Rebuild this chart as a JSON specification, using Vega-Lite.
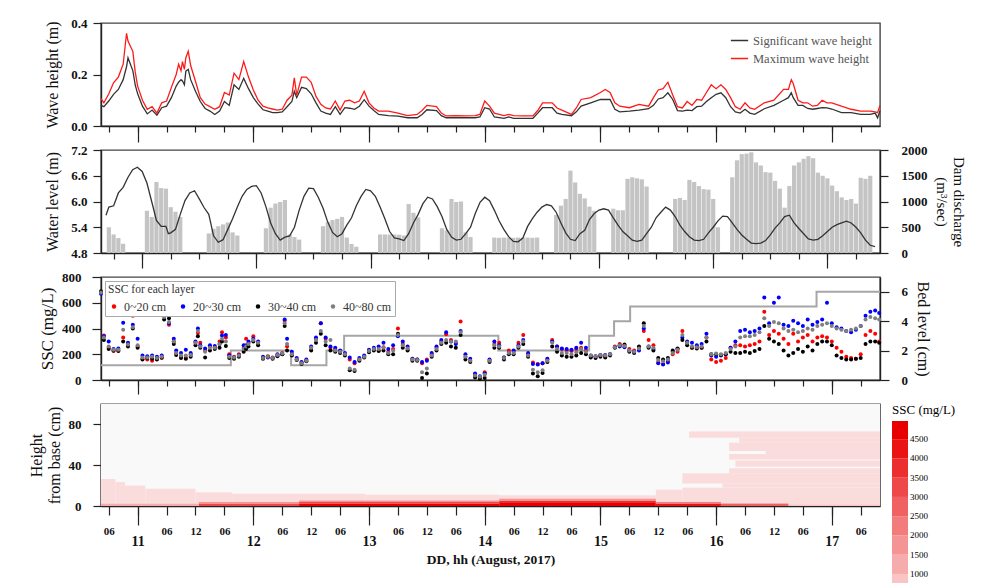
{
"$schema": "https://vega.github.io/schema/vega-lite/v6.json",
"padding": {"left": 27, "top": 16, "right": 6, "bottom": 6},
"background": "white",
"config": {
  "font": "Liberation Serif",
  "view": {"stroke": "#444", "strokeWidth": 1.4},
  "axis": {"labelFont": "Liberation Serif", "titleFont": "Liberation Serif", "labelFontWeight": "bold", "labelFontSize": 13, "labelColor": "#111", "titleFontWeight": "normal", "titleFontSize": 16, "titleColor": "#111", "domainColor": "#222", "domainWidth": 1.4, "tickColor": "#222", "tickWidth": 1.2, "grid": false},
  "legend": {"labelFont": "Liberation Serif", "titleFont": "Liberation Serif"}
},
"datasets": {
"wave": [
{"t":"2017-08-10T16:24","Hs":0.08,"Hmax":0.106},{"t":"2017-08-10T17:00","Hs":0.075,"Hmax":0.09},{"t":"2017-08-10T18:00","Hs":0.097,"Hmax":0.124},{"t":"2017-08-10T19:00","Hs":0.123,"Hmax":0.168},{"t":"2017-08-10T20:00","Hs":0.142,"Hmax":0.19},{"t":"2017-08-10T21:00","Hs":0.18,"Hmax":0.24},{"t":"2017-08-10T21:42","Hs":0.23,"Hmax":0.36},{"t":"2017-08-10T22:00","Hs":0.265,"Hmax":0.33},{"t":"2017-08-10T22:30","Hs":0.24,"Hmax":0.31},{"t":"2017-08-10T23:00","Hs":0.215,"Hmax":0.29},{"t":"2017-08-10T23:30","Hs":0.16,"Hmax":0.21},
{"t":"2017-08-11T00:00","Hs":0.125,"Hmax":0.155},{"t":"2017-08-11T01:00","Hs":0.077,"Hmax":0.1},{"t":"2017-08-11T02:00","Hs":0.047,"Hmax":0.065},{"t":"2017-08-11T03:00","Hs":0.062,"Hmax":0.075},{"t":"2017-08-11T04:00","Hs":0.042,"Hmax":0.05},{"t":"2017-08-11T05:00","Hs":0.071,"Hmax":0.09},{"t":"2017-08-11T06:00","Hs":0.077,"Hmax":0.097},{"t":"2017-08-11T07:00","Hs":0.11,"Hmax":0.15},{"t":"2017-08-11T08:00","Hs":0.155,"Hmax":0.2},{"t":"2017-08-11T08:30","Hs":0.17,"Hmax":0.24},{"t":"2017-08-11T09:00","Hs":0.18,"Hmax":0.215},{"t":"2017-08-11T09:18","Hs":0.175,"Hmax":0.25},{"t":"2017-08-11T09:42","Hs":0.16,"Hmax":0.22},{"t":"2017-08-11T10:00","Hs":0.213,"Hmax":0.265},{"t":"2017-08-11T10:30","Hs":0.22,"Hmax":0.29},{"t":"2017-08-11T11:00","Hs":0.18,"Hmax":0.235},{"t":"2017-08-11T12:00","Hs":0.135,"Hmax":0.174},{"t":"2017-08-11T13:00","Hs":0.095,"Hmax":0.11},{"t":"2017-08-11T14:00","Hs":0.068,"Hmax":0.085},{"t":"2017-08-11T15:00","Hs":0.058,"Hmax":0.075},{"t":"2017-08-11T16:00","Hs":0.045,"Hmax":0.065},{"t":"2017-08-11T17:00","Hs":0.058,"Hmax":0.075},{"t":"2017-08-11T18:00","Hs":0.095,"Hmax":0.13},{"t":"2017-08-11T19:00","Hs":0.08,"Hmax":0.12},{"t":"2017-08-11T20:00","Hs":0.16,"Hmax":0.205},{"t":"2017-08-11T21:00","Hs":0.142,"Hmax":0.18},{"t":"2017-08-11T22:00","Hs":0.185,"Hmax":0.25},{"t":"2017-08-11T23:00","Hs":0.145,"Hmax":0.19},
{"t":"2017-08-12T00:00","Hs":0.11,"Hmax":0.14},{"t":"2017-08-12T01:00","Hs":0.085,"Hmax":0.1},{"t":"2017-08-12T02:00","Hs":0.063,"Hmax":0.077},{"t":"2017-08-12T03:00","Hs":0.058,"Hmax":0.07},{"t":"2017-08-12T04:00","Hs":0.052,"Hmax":0.066},{"t":"2017-08-12T05:00","Hs":0.052,"Hmax":0.062},{"t":"2017-08-12T06:00","Hs":0.055,"Hmax":0.065},{"t":"2017-08-12T07:00","Hs":0.075,"Hmax":0.1},{"t":"2017-08-12T08:00","Hs":0.095,"Hmax":0.12},{"t":"2017-08-12T08:30","Hs":0.135,"Hmax":0.187},{"t":"2017-08-12T09:00","Hs":0.11,"Hmax":0.12},{"t":"2017-08-12T10:00","Hs":0.15,"Hmax":0.19},{"t":"2017-08-12T11:00","Hs":0.145,"Hmax":0.19},{"t":"2017-08-12T12:00","Hs":0.125,"Hmax":0.17},{"t":"2017-08-12T13:00","Hs":0.09,"Hmax":0.115},{"t":"2017-08-12T14:00","Hs":0.058,"Hmax":0.084},{"t":"2017-08-12T15:00","Hs":0.05,"Hmax":0.07},{"t":"2017-08-12T16:00","Hs":0.045,"Hmax":0.066},{"t":"2017-08-12T17:00","Hs":0.075,"Hmax":0.097},{"t":"2017-08-12T18:00","Hs":0.045,"Hmax":0.062},{"t":"2017-08-12T19:00","Hs":0.071,"Hmax":0.097},{"t":"2017-08-12T20:00","Hs":0.069,"Hmax":0.1},{"t":"2017-08-12T21:00","Hs":0.065,"Hmax":0.09},{"t":"2017-08-12T22:00","Hs":0.077,"Hmax":0.097},{"t":"2017-08-12T23:00","Hs":0.102,"Hmax":0.135},
{"t":"2017-08-13T00:00","Hs":0.077,"Hmax":0.09},{"t":"2017-08-13T01:00","Hs":0.06,"Hmax":0.07},{"t":"2017-08-13T02:00","Hs":0.045,"Hmax":0.058},{"t":"2017-08-13T04:00","Hs":0.04,"Hmax":0.058},{"t":"2017-08-13T06:00","Hs":0.038,"Hmax":0.05},{"t":"2017-08-13T08:00","Hs":0.032,"Hmax":0.04},{"t":"2017-08-13T10:00","Hs":0.032,"Hmax":0.045},{"t":"2017-08-13T11:00","Hs":0.045,"Hmax":0.06},{"t":"2017-08-13T12:00","Hs":0.063,"Hmax":0.08},{"t":"2017-08-13T14:00","Hs":0.06,"Hmax":0.075},{"t":"2017-08-13T15:00","Hs":0.04,"Hmax":0.05},{"t":"2017-08-13T16:00","Hs":0.032,"Hmax":0.039},{"t":"2017-08-13T18:00","Hs":0.032,"Hmax":0.04},{"t":"2017-08-13T20:00","Hs":0.032,"Hmax":0.039},{"t":"2017-08-13T22:00","Hs":0.032,"Hmax":0.04},{"t":"2017-08-13T23:00","Hs":0.035,"Hmax":0.045},
{"t":"2017-08-14T00:00","Hs":0.071,"Hmax":0.097},{"t":"2017-08-14T01:00","Hs":0.066,"Hmax":0.077},{"t":"2017-08-14T02:00","Hs":0.035,"Hmax":0.05},{"t":"2017-08-14T04:00","Hs":0.03,"Hmax":0.04},{"t":"2017-08-14T05:00","Hs":0.035,"Hmax":0.045},{"t":"2017-08-14T06:00","Hs":0.03,"Hmax":0.04},{"t":"2017-08-14T08:00","Hs":0.03,"Hmax":0.039},{"t":"2017-08-14T10:00","Hs":0.03,"Hmax":0.039},{"t":"2017-08-14T11:00","Hs":0.05,"Hmax":0.06},{"t":"2017-08-14T12:00","Hs":0.071,"Hmax":0.09},{"t":"2017-08-14T14:00","Hs":0.071,"Hmax":0.09},{"t":"2017-08-14T15:00","Hs":0.05,"Hmax":0.07},{"t":"2017-08-14T16:00","Hs":0.045,"Hmax":0.062},{"t":"2017-08-14T18:00","Hs":0.04,"Hmax":0.045},{"t":"2017-08-14T19:00","Hs":0.055,"Hmax":0.07},{"t":"2017-08-14T20:00","Hs":0.077,"Hmax":0.103},{"t":"2017-08-14T22:00","Hs":0.09,"Hmax":0.11},
{"t":"2017-08-15T00:00","Hs":0.103,"Hmax":0.13},{"t":"2017-08-15T01:00","Hs":0.103,"Hmax":0.142},{"t":"2017-08-15T02:00","Hs":0.103,"Hmax":0.13},{"t":"2017-08-15T03:00","Hs":0.065,"Hmax":0.09},{"t":"2017-08-15T04:00","Hs":0.055,"Hmax":0.077},{"t":"2017-08-15T06:00","Hs":0.058,"Hmax":0.071},{"t":"2017-08-15T08:00","Hs":0.062,"Hmax":0.084},{"t":"2017-08-15T10:00","Hs":0.067,"Hmax":0.077},{"t":"2017-08-15T11:00","Hs":0.08,"Hmax":0.11},{"t":"2017-08-15T12:00","Hs":0.105,"Hmax":0.14},{"t":"2017-08-15T13:00","Hs":0.11,"Hmax":0.145},{"t":"2017-08-15T14:00","Hs":0.129,"Hmax":0.17},{"t":"2017-08-15T15:00","Hs":0.103,"Hmax":0.12},{"t":"2017-08-15T16:00","Hs":0.06,"Hmax":0.075},{"t":"2017-08-15T17:00","Hs":0.058,"Hmax":0.07},{"t":"2017-08-15T18:00","Hs":0.062,"Hmax":0.095},{"t":"2017-08-15T19:00","Hs":0.06,"Hmax":0.08},{"t":"2017-08-15T20:00","Hs":0.075,"Hmax":0.103},{"t":"2017-08-15T21:00","Hs":0.077,"Hmax":0.1},{"t":"2017-08-15T22:00","Hs":0.095,"Hmax":0.13},{"t":"2017-08-15T23:00","Hs":0.11,"Hmax":0.16},
{"t":"2017-08-16T00:00","Hs":0.123,"Hmax":0.145},{"t":"2017-08-16T01:00","Hs":0.129,"Hmax":0.16},{"t":"2017-08-16T02:00","Hs":0.11,"Hmax":0.142},{"t":"2017-08-16T03:00","Hs":0.075,"Hmax":0.11},{"t":"2017-08-16T04:00","Hs":0.055,"Hmax":0.075},{"t":"2017-08-16T05:00","Hs":0.05,"Hmax":0.065},{"t":"2017-08-16T06:00","Hs":0.065,"Hmax":0.09},{"t":"2017-08-16T07:00","Hs":0.05,"Hmax":0.07},{"t":"2017-08-16T08:00","Hs":0.045,"Hmax":0.065},{"t":"2017-08-16T10:00","Hs":0.067,"Hmax":0.09},{"t":"2017-08-16T12:00","Hs":0.08,"Hmax":0.1},{"t":"2017-08-16T14:00","Hs":0.1,"Hmax":0.142},{"t":"2017-08-16T15:00","Hs":0.11,"Hmax":0.142},{"t":"2017-08-16T15:36","Hs":0.129,"Hmax":0.18},{"t":"2017-08-16T16:00","Hs":0.11,"Hmax":0.165},{"t":"2017-08-16T17:00","Hs":0.08,"Hmax":0.1},{"t":"2017-08-16T18:00","Hs":0.08,"Hmax":0.09},{"t":"2017-08-16T19:00","Hs":0.068,"Hmax":0.09},{"t":"2017-08-16T20:00","Hs":0.065,"Hmax":0.077},{"t":"2017-08-16T21:00","Hs":0.068,"Hmax":0.08},{"t":"2017-08-16T22:00","Hs":0.071,"Hmax":0.1},{"t":"2017-08-16T23:00","Hs":0.07,"Hmax":0.09},
{"t":"2017-08-17T00:00","Hs":0.066,"Hmax":0.09},{"t":"2017-08-17T02:00","Hs":0.052,"Hmax":0.077},{"t":"2017-08-17T04:00","Hs":0.052,"Hmax":0.065},{"t":"2017-08-17T06:00","Hs":0.045,"Hmax":0.058},{"t":"2017-08-17T08:00","Hs":0.045,"Hmax":0.058},{"t":"2017-08-17T09:00","Hs":0.05,"Hmax":0.055},{"t":"2017-08-17T09:30","Hs":0.032,"Hmax":0.052},{"t":"2017-08-17T10:00","Hs":0.058,"Hmax":0.08}
],
"level": [
{"t":"2017-08-10T16:24","wl":5.68},{"t":"2017-08-10T17:00","wl":5.87},{"t":"2017-08-10T18:00","wl":5.9},{"t":"2017-08-10T19:00","wl":6.2},{"t":"2017-08-10T20:00","wl":6.33},{"t":"2017-08-10T21:00","wl":6.56},{"t":"2017-08-10T22:00","wl":6.74},{"t":"2017-08-10T23:00","wl":6.8},
{"t":"2017-08-11T00:00","wl":6.7},{"t":"2017-08-11T01:00","wl":6.43},{"t":"2017-08-11T02:00","wl":6.0},{"t":"2017-08-11T03:00","wl":5.56},{"t":"2017-08-11T04:00","wl":5.42},{"t":"2017-08-11T05:00","wl":5.42},{"t":"2017-08-11T05:30","wl":5.25},{"t":"2017-08-11T06:00","wl":5.27},{"t":"2017-08-11T07:00","wl":5.35},{"t":"2017-08-11T08:00","wl":5.7},{"t":"2017-08-11T09:00","wl":6.02},{"t":"2017-08-11T10:00","wl":6.2},{"t":"2017-08-11T11:00","wl":6.25},{"t":"2017-08-11T12:00","wl":6.06},{"t":"2017-08-11T13:00","wl":5.86},{"t":"2017-08-11T14:00","wl":5.7},{"t":"2017-08-11T15:00","wl":5.2},{"t":"2017-08-11T16:00","wl":5.05},{"t":"2017-08-11T17:00","wl":5.11},{"t":"2017-08-11T18:00","wl":5.35},{"t":"2017-08-11T19:00","wl":5.6},{"t":"2017-08-11T20:00","wl":5.87},{"t":"2017-08-11T21:00","wl":6.12},{"t":"2017-08-11T22:00","wl":6.28},{"t":"2017-08-11T23:00","wl":6.35},
{"t":"2017-08-12T00:00","wl":6.37},{"t":"2017-08-12T01:00","wl":6.2},{"t":"2017-08-12T02:00","wl":5.88},{"t":"2017-08-12T03:00","wl":5.5},{"t":"2017-08-12T04:00","wl":5.25},{"t":"2017-08-12T05:00","wl":5.1},{"t":"2017-08-12T06:00","wl":5.17},{"t":"2017-08-12T07:00","wl":5.2},{"t":"2017-08-12T08:00","wl":5.4},{"t":"2017-08-12T09:00","wl":5.8},{"t":"2017-08-12T10:00","wl":6.12},{"t":"2017-08-12T11:00","wl":6.31},{"t":"2017-08-12T12:00","wl":6.3},{"t":"2017-08-12T13:00","wl":6.1},{"t":"2017-08-12T14:00","wl":5.85},{"t":"2017-08-12T15:00","wl":5.52},{"t":"2017-08-12T16:00","wl":5.28},{"t":"2017-08-12T17:00","wl":5.18},{"t":"2017-08-12T18:00","wl":5.25},{"t":"2017-08-12T19:00","wl":5.45},{"t":"2017-08-12T20:00","wl":5.62},{"t":"2017-08-12T21:00","wl":5.9},{"t":"2017-08-12T22:00","wl":6.12},{"t":"2017-08-12T23:00","wl":6.28},
{"t":"2017-08-13T00:00","wl":6.25},{"t":"2017-08-13T01:00","wl":6.12},{"t":"2017-08-13T02:00","wl":5.87},{"t":"2017-08-13T03:00","wl":5.6},{"t":"2017-08-13T04:00","wl":5.3},{"t":"2017-08-13T05:00","wl":5.15},{"t":"2017-08-13T06:00","wl":5.13},{"t":"2017-08-13T07:00","wl":5.09},{"t":"2017-08-13T08:00","wl":5.25},{"t":"2017-08-13T09:00","wl":5.5},{"t":"2017-08-13T10:00","wl":5.7},{"t":"2017-08-13T11:00","wl":5.95},{"t":"2017-08-13T12:00","wl":6.1},{"t":"2017-08-13T13:00","wl":6.06},{"t":"2017-08-13T14:00","wl":5.88},{"t":"2017-08-13T15:00","wl":5.65},{"t":"2017-08-13T16:00","wl":5.35},{"t":"2017-08-13T17:00","wl":5.17},{"t":"2017-08-13T18:00","wl":5.1},{"t":"2017-08-13T19:00","wl":5.12},{"t":"2017-08-13T20:00","wl":5.25},{"t":"2017-08-13T21:00","wl":5.4},{"t":"2017-08-13T22:00","wl":5.72},{"t":"2017-08-13T23:00","wl":5.98},
{"t":"2017-08-14T00:00","wl":6.1},{"t":"2017-08-14T01:00","wl":6.02},{"t":"2017-08-14T02:00","wl":5.8},{"t":"2017-08-14T03:00","wl":5.55},{"t":"2017-08-14T04:00","wl":5.35},{"t":"2017-08-14T05:00","wl":5.18},{"t":"2017-08-14T06:00","wl":5.07},{"t":"2017-08-14T07:00","wl":5.06},{"t":"2017-08-14T08:00","wl":5.15},{"t":"2017-08-14T09:00","wl":5.42},{"t":"2017-08-14T10:00","wl":5.6},{"t":"2017-08-14T11:00","wl":5.75},{"t":"2017-08-14T12:00","wl":5.87},{"t":"2017-08-14T13:00","wl":5.93},{"t":"2017-08-14T14:00","wl":5.9},{"t":"2017-08-14T15:00","wl":5.75},{"t":"2017-08-14T16:00","wl":5.5},{"t":"2017-08-14T17:00","wl":5.27},{"t":"2017-08-14T18:00","wl":5.12},{"t":"2017-08-14T19:00","wl":5.09},{"t":"2017-08-14T20:00","wl":5.25},{"t":"2017-08-14T21:00","wl":5.33},{"t":"2017-08-14T22:00","wl":5.58},{"t":"2017-08-14T23:00","wl":5.72},
{"t":"2017-08-15T00:00","wl":5.8},{"t":"2017-08-15T01:00","wl":5.83},{"t":"2017-08-15T02:00","wl":5.8},{"t":"2017-08-15T03:00","wl":5.62},{"t":"2017-08-15T04:00","wl":5.45},{"t":"2017-08-15T05:00","wl":5.3},{"t":"2017-08-15T06:00","wl":5.2},{"t":"2017-08-15T07:00","wl":5.1},{"t":"2017-08-15T08:00","wl":5.07},{"t":"2017-08-15T09:00","wl":5.1},{"t":"2017-08-15T10:00","wl":5.25},{"t":"2017-08-15T11:00","wl":5.4},{"t":"2017-08-15T12:00","wl":5.62},{"t":"2017-08-15T13:00","wl":5.75},{"t":"2017-08-15T14:00","wl":5.87},{"t":"2017-08-15T15:00","wl":5.8},{"t":"2017-08-15T16:00","wl":5.65},{"t":"2017-08-15T17:00","wl":5.45},{"t":"2017-08-15T18:00","wl":5.3},{"t":"2017-08-15T19:00","wl":5.18},{"t":"2017-08-15T20:00","wl":5.1},{"t":"2017-08-15T21:00","wl":5.09},{"t":"2017-08-15T22:00","wl":5.12},{"t":"2017-08-15T23:00","wl":5.27},
{"t":"2017-08-16T00:00","wl":5.4},{"t":"2017-08-16T01:00","wl":5.55},{"t":"2017-08-16T02:00","wl":5.66},{"t":"2017-08-16T03:00","wl":5.65},{"t":"2017-08-16T04:00","wl":5.5},{"t":"2017-08-16T05:00","wl":5.35},{"t":"2017-08-16T06:00","wl":5.22},{"t":"2017-08-16T07:00","wl":5.12},{"t":"2017-08-16T08:00","wl":5.03},{"t":"2017-08-16T09:00","wl":5.02},{"t":"2017-08-16T10:00","wl":5.03},{"t":"2017-08-16T11:00","wl":5.09},{"t":"2017-08-16T12:00","wl":5.22},{"t":"2017-08-16T13:00","wl":5.38},{"t":"2017-08-16T14:00","wl":5.5},{"t":"2017-08-16T15:00","wl":5.65},{"t":"2017-08-16T16:00","wl":5.68},{"t":"2017-08-16T17:00","wl":5.5},{"t":"2017-08-16T18:00","wl":5.37},{"t":"2017-08-16T19:00","wl":5.25},{"t":"2017-08-16T20:00","wl":5.13},{"t":"2017-08-16T21:00","wl":5.1},{"t":"2017-08-16T22:00","wl":5.12},{"t":"2017-08-16T23:00","wl":5.2},
{"t":"2017-08-17T00:00","wl":5.3},{"t":"2017-08-17T01:00","wl":5.4},{"t":"2017-08-17T02:00","wl":5.46},{"t":"2017-08-17T03:00","wl":5.5},{"t":"2017-08-17T04:00","wl":5.54},{"t":"2017-08-17T05:00","wl":5.5},{"t":"2017-08-17T06:00","wl":5.4},{"t":"2017-08-17T07:00","wl":5.27},{"t":"2017-08-17T08:00","wl":5.1},{"t":"2017-08-17T09:00","wl":4.98},{"t":"2017-08-17T10:00","wl":4.95}
],
"discharge": [
{"t":"2017-08-10T17:00","q":500},{"t":"2017-08-10T18:00","q":360},{"t":"2017-08-10T19:00","q":290},{"t":"2017-08-10T20:00","q":180},
{"t":"2017-08-11T01:00","q":820},{"t":"2017-08-11T02:00","q":700},{"t":"2017-08-11T03:00","q":1380},{"t":"2017-08-11T04:00","q":1260},{"t":"2017-08-11T05:00","q":1250},{"t":"2017-08-11T06:00","q":890},{"t":"2017-08-11T07:00","q":800},{"t":"2017-08-11T08:00","q":700},
{"t":"2017-08-11T14:00","q":380},{"t":"2017-08-11T15:00","q":470},{"t":"2017-08-11T16:00","q":520},{"t":"2017-08-11T17:00","q":555},{"t":"2017-08-11T18:00","q":590},{"t":"2017-08-11T19:00","q":400},{"t":"2017-08-11T20:00","q":340},
{"t":"2017-08-12T02:00","q":480},{"t":"2017-08-12T03:00","q":880},{"t":"2017-08-12T04:00","q":960},{"t":"2017-08-12T05:00","q":990},{"t":"2017-08-12T06:00","q":1030},{"t":"2017-08-12T07:00","q":360},{"t":"2017-08-12T08:00","q":310},{"t":"2017-08-12T09:00","q":260},
{"t":"2017-08-12T14:00","q":520},{"t":"2017-08-12T15:00","q":600},{"t":"2017-08-12T16:00","q":640},{"t":"2017-08-12T17:00","q":664},{"t":"2017-08-12T18:00","q":700},{"t":"2017-08-12T19:00","q":300},{"t":"2017-08-12T20:00","q":175},{"t":"2017-08-12T21:00","q":120},
{"t":"2017-08-13T02:00","q":360},{"t":"2017-08-13T03:00","q":360},{"t":"2017-08-13T04:00","q":360},{"t":"2017-08-13T05:00","q":360},{"t":"2017-08-13T06:00","q":355},{"t":"2017-08-13T07:00","q":340},{"t":"2017-08-13T08:00","q":950},{"t":"2017-08-13T09:00","q":780},{"t":"2017-08-13T10:00","q":690},
{"t":"2017-08-13T15:00","q":480},{"t":"2017-08-13T16:00","q":440},{"t":"2017-08-13T17:00","q":1050},{"t":"2017-08-13T18:00","q":990},{"t":"2017-08-13T19:00","q":1000},{"t":"2017-08-13T20:00","q":400},{"t":"2017-08-13T21:00","q":310},
{"t":"2017-08-14T02:00","q":300},{"t":"2017-08-14T03:00","q":295},{"t":"2017-08-14T04:00","q":300},{"t":"2017-08-14T05:00","q":298},{"t":"2017-08-14T06:00","q":295},{"t":"2017-08-14T07:00","q":300},{"t":"2017-08-14T08:00","q":298},{"t":"2017-08-14T09:00","q":300},{"t":"2017-08-14T10:00","q":295},{"t":"2017-08-14T11:00","q":300},
{"t":"2017-08-14T15:00","q":740},{"t":"2017-08-14T16:00","q":920},{"t":"2017-08-14T17:00","q":1050},{"t":"2017-08-14T18:00","q":1600},{"t":"2017-08-14T19:00","q":1370},{"t":"2017-08-14T20:00","q":1150},{"t":"2017-08-14T21:00","q":1060},{"t":"2017-08-14T22:00","q":900},{"t":"2017-08-14T23:00","q":820},
{"t":"2017-08-15T03:00","q":860},{"t":"2017-08-15T04:00","q":830},{"t":"2017-08-15T05:00","q":830},{"t":"2017-08-15T06:00","q":1440},{"t":"2017-08-15T07:00","q":1470},{"t":"2017-08-15T08:00","q":1450},{"t":"2017-08-15T09:00","q":1430},{"t":"2017-08-15T10:00","q":1290},
{"t":"2017-08-15T16:00","q":1050},{"t":"2017-08-15T17:00","q":1070},{"t":"2017-08-15T18:00","q":1030},{"t":"2017-08-15T19:00","q":1420},{"t":"2017-08-15T20:00","q":1380},{"t":"2017-08-15T21:00","q":1300},{"t":"2017-08-15T22:00","q":1240},{"t":"2017-08-15T23:00","q":1230},{"t":"2017-08-16T00:00","q":1050},{"t":"2017-08-16T01:00","q":500},
{"t":"2017-08-16T04:00","q":1470},{"t":"2017-08-16T05:00","q":1800},{"t":"2017-08-16T06:00","q":1920},{"t":"2017-08-16T07:00","q":1930},{"t":"2017-08-16T08:00","q":1955},{"t":"2017-08-16T09:00","q":1760},{"t":"2017-08-16T10:00","q":1700},{"t":"2017-08-16T11:00","q":1570},{"t":"2017-08-16T12:00","q":1560},{"t":"2017-08-16T13:00","q":1400},{"t":"2017-08-16T14:00","q":1250},{"t":"2017-08-16T15:00","q":880},{"t":"2017-08-16T16:00","q":1300},{"t":"2017-08-16T17:00","q":1700},{"t":"2017-08-16T18:00","q":1760},{"t":"2017-08-16T19:00","q":1830},{"t":"2017-08-16T20:00","q":1880},{"t":"2017-08-16T21:00","q":1840},{"t":"2017-08-16T22:00","q":1560},{"t":"2017-08-16T23:00","q":1500},
{"t":"2017-08-17T00:00","q":1450},{"t":"2017-08-17T01:00","q":1310},{"t":"2017-08-17T02:00","q":1200},{"t":"2017-08-17T03:00","q":1080},{"t":"2017-08-17T04:00","q":1030},{"t":"2017-08-17T05:00","q":1050},{"t":"2017-08-17T06:00","q":960},{"t":"2017-08-17T07:00","q":1460},{"t":"2017-08-17T08:00","q":1440},{"t":"2017-08-17T09:00","q":1500}
],
"ssc": [
{"t":"2017-08-10T16:24","0~20 cm":680,"20~30 cm":670,"30~40 cm":690,"40~80 cm":680},{"t":"2017-08-10T17:00","0~20 cm":345,"20~30 cm":340,"30~40 cm":310,"40~80 cm":330},{"t":"2017-08-10T18:00","0~20 cm":250,"20~30 cm":300,"30~40 cm":240,"40~80 cm":260},{"t":"2017-08-10T19:00","0~20 cm":225,"20~30 cm":240,"30~40 cm":230,"40~80 cm":235},{"t":"2017-08-10T20:00","0~20 cm":230,"20~30 cm":245,"30~40 cm":225,"40~80 cm":235},{"t":"2017-08-10T21:00","0~20 cm":330,"20~30 cm":445,"30~40 cm":300,"40~80 cm":390},{"t":"2017-08-10T22:00","0~20 cm":280,"20~30 cm":290,"30~40 cm":260,"40~80 cm":275},{"t":"2017-08-10T23:00","0~20 cm":500,"20~30 cm":430,"30~40 cm":400,"40~80 cm":410},
{"t":"2017-08-11T00:00","0~20 cm":260,"20~30 cm":320,"30~40 cm":250,"40~80 cm":270},{"t":"2017-08-11T01:00","0~20 cm":165,"20~30 cm":190,"30~40 cm":160,"40~80 cm":175},{"t":"2017-08-11T02:00","0~20 cm":160,"20~30 cm":185,"30~40 cm":170,"40~80 cm":175},{"t":"2017-08-11T03:00","0~20 cm":150,"20~30 cm":190,"30~40 cm":165,"40~80 cm":180},{"t":"2017-08-11T04:00","0~20 cm":165,"20~30 cm":180,"30~40 cm":160,"40~80 cm":170},{"t":"2017-08-11T05:00","0~20 cm":170,"20~30 cm":190,"30~40 cm":175,"40~80 cm":180},{"t":"2017-08-11T05:30","0~20 cm":500,"20~30 cm":510,"30~40 cm":470,"40~80 cm":490},{"t":"2017-08-11T06:30","0~20 cm":430,"20~30 cm":440,"30~40 cm":480,"40~80 cm":450},{"t":"2017-08-11T07:30","0~20 cm":300,"20~30 cm":320,"30~40 cm":280,"40~80 cm":300},{"t":"2017-08-11T08:00","0~20 cm":210,"20~30 cm":230,"30~40 cm":195,"40~80 cm":210},{"t":"2017-08-11T09:00","0~20 cm":180,"20~30 cm":210,"30~40 cm":170,"40~80 cm":190},{"t":"2017-08-11T10:00","0~20 cm":170,"20~30 cm":235,"30~40 cm":165,"40~80 cm":190},{"t":"2017-08-11T11:00","0~20 cm":200,"20~30 cm":210,"30~40 cm":180,"40~80 cm":195},{"t":"2017-08-11T12:00","0~20 cm":290,"20~30 cm":300,"30~40 cm":270,"40~80 cm":290},{"t":"2017-08-11T12:30","0~20 cm":365,"20~30 cm":400,"30~40 cm":340,"40~80 cm":380},{"t":"2017-08-11T13:00","0~20 cm":290,"20~30 cm":270,"30~40 cm":250,"40~80 cm":260},{"t":"2017-08-11T14:00","0~20 cm":230,"20~30 cm":245,"30~40 cm":175,"40~80 cm":220},{"t":"2017-08-11T15:00","0~20 cm":260,"20~30 cm":270,"30~40 cm":230,"40~80 cm":250},{"t":"2017-08-11T16:00","0~20 cm":255,"20~30 cm":265,"30~40 cm":240,"40~80 cm":250},{"t":"2017-08-11T17:00","0~20 cm":300,"20~30 cm":280,"30~40 cm":250,"40~80 cm":280},{"t":"2017-08-11T17:30","0~20 cm":370,"20~30 cm":345,"30~40 cm":300,"40~80 cm":320},{"t":"2017-08-11T18:18","0~20 cm":330,"20~30 cm":350,"30~40 cm":265,"40~80 cm":300},{"t":"2017-08-11T19:00","0~20 cm":200,"20~30 cm":190,"30~40 cm":170,"40~80 cm":180},{"t":"2017-08-11T20:00","0~20 cm":180,"20~30 cm":175,"30~40 cm":165,"40~80 cm":175},{"t":"2017-08-11T21:00","0~20 cm":200,"20~30 cm":195,"30~40 cm":180,"40~80 cm":190},{"t":"2017-08-11T22:00","0~20 cm":250,"20~30 cm":270,"30~40 cm":220,"40~80 cm":240},{"t":"2017-08-11T22:30","0~20 cm":320,"20~30 cm":270,"30~40 cm":240,"40~80 cm":260},{"t":"2017-08-11T23:00","0~20 cm":290,"20~30 cm":300,"30~40 cm":260,"40~80 cm":280},
{"t":"2017-08-12T00:00","0~20 cm":340,"20~30 cm":320,"30~40 cm":300,"40~80 cm":310},{"t":"2017-08-12T01:00","0~20 cm":280,"20~30 cm":300,"30~40 cm":270,"40~80 cm":290},{"t":"2017-08-12T02:00","0~20 cm":170,"20~30 cm":180,"30~40 cm":165,"40~80 cm":170},{"t":"2017-08-12T03:00","0~20 cm":185,"20~30 cm":175,"30~40 cm":180,"40~80 cm":180},{"t":"2017-08-12T04:00","0~20 cm":175,"20~30 cm":170,"30~40 cm":165,"40~80 cm":170},{"t":"2017-08-12T05:00","0~20 cm":195,"20~30 cm":200,"30~40 cm":185,"40~80 cm":195},{"t":"2017-08-12T06:00","0~20 cm":210,"20~30 cm":200,"30~40 cm":200,"40~80 cm":205},{"t":"2017-08-12T06:30","0~20 cm":460,"20~30 cm":470,"30~40 cm":420,"40~80 cm":440},{"t":"2017-08-12T07:00","0~20 cm":260,"20~30 cm":320,"30~40 cm":230,"40~80 cm":280},{"t":"2017-08-12T08:00","0~20 cm":200,"20~30 cm":220,"30~40 cm":190,"40~80 cm":200},{"t":"2017-08-12T09:00","0~20 cm":160,"20~30 cm":170,"30~40 cm":155,"40~80 cm":160},{"t":"2017-08-12T10:00","0~20 cm":135,"20~30 cm":140,"30~40 cm":125,"40~80 cm":130},{"t":"2017-08-12T11:00","0~20 cm":150,"20~30 cm":160,"30~40 cm":145,"40~80 cm":150},{"t":"2017-08-12T12:00","0~20 cm":240,"20~30 cm":260,"30~40 cm":230,"40~80 cm":250},{"t":"2017-08-12T13:00","0~20 cm":320,"20~30 cm":330,"30~40 cm":290,"40~80 cm":310},{"t":"2017-08-12T14:00","0~20 cm":440,"20~30 cm":440,"30~40 cm":360,"40~80 cm":380},{"t":"2017-08-12T15:00","0~20 cm":320,"20~30 cm":330,"30~40 cm":270,"40~80 cm":300},{"t":"2017-08-12T16:00","0~20 cm":250,"20~30 cm":260,"30~40 cm":230,"40~80 cm":310},{"t":"2017-08-12T17:00","0~20 cm":240,"20~30 cm":250,"30~40 cm":220,"40~80 cm":230},{"t":"2017-08-12T18:00","0~20 cm":225,"20~30 cm":230,"30~40 cm":210,"40~80 cm":220},{"t":"2017-08-12T19:00","0~20 cm":200,"20~30 cm":210,"30~40 cm":190,"40~80 cm":200},{"t":"2017-08-12T20:00","0~20 cm":160,"20~30 cm":175,"30~40 cm":75,"40~80 cm":90},{"t":"2017-08-12T21:00","0~20 cm":130,"20~30 cm":140,"30~40 cm":70,"40~80 cm":80},{"t":"2017-08-12T22:00","0~20 cm":160,"20~30 cm":170,"30~40 cm":150,"40~80 cm":160},{"t":"2017-08-12T23:00","0~20 cm":185,"20~30 cm":190,"30~40 cm":175,"40~80 cm":180},
{"t":"2017-08-13T00:00","0~20 cm":230,"20~30 cm":235,"30~40 cm":215,"40~80 cm":225},{"t":"2017-08-13T01:00","0~20 cm":240,"20~30 cm":250,"30~40 cm":230,"40~80 cm":240},{"t":"2017-08-13T02:00","0~20 cm":230,"20~30 cm":260,"30~40 cm":225,"40~80 cm":240},{"t":"2017-08-13T03:00","0~20 cm":255,"20~30 cm":290,"30~40 cm":230,"40~80 cm":250},{"t":"2017-08-13T04:00","0~20 cm":220,"20~30 cm":240,"30~40 cm":200,"40~80 cm":210},{"t":"2017-08-13T05:00","0~20 cm":240,"20~30 cm":270,"30~40 cm":200,"40~80 cm":230},{"t":"2017-08-13T06:00","0~20 cm":400,"20~30 cm":340,"30~40 cm":360,"40~80 cm":350},{"t":"2017-08-13T07:00","0~20 cm":280,"20~30 cm":300,"30~40 cm":250,"40~80 cm":270},{"t":"2017-08-13T08:00","0~20 cm":240,"20~30 cm":260,"30~40 cm":230,"40~80 cm":245},{"t":"2017-08-13T09:00","0~20 cm":165,"20~30 cm":165,"30~40 cm":150,"40~80 cm":160},{"t":"2017-08-13T10:00","0~20 cm":160,"20~30 cm":160,"30~40 cm":150,"40~80 cm":155},{"t":"2017-08-13T11:00","0~20 cm":130,"20~30 cm":140,"30~40 cm":15,"40~80 cm":60},{"t":"2017-08-13T12:00","0~20 cm":160,"20~30 cm":150,"30~40 cm":50,"40~80 cm":90},{"t":"2017-08-13T13:00","0~20 cm":200,"20~30 cm":210,"30~40 cm":180,"40~80 cm":190},{"t":"2017-08-13T14:00","0~20 cm":250,"20~30 cm":260,"30~40 cm":230,"40~80 cm":240},{"t":"2017-08-13T15:00","0~20 cm":300,"20~30 cm":310,"30~40 cm":280,"40~80 cm":290},{"t":"2017-08-13T16:00","0~20 cm":355,"20~30 cm":370,"30~40 cm":290,"40~80 cm":310},{"t":"2017-08-13T17:00","0~20 cm":310,"20~30 cm":300,"30~40 cm":260,"40~80 cm":300},{"t":"2017-08-13T18:00","0~20 cm":290,"20~30 cm":280,"30~40 cm":250,"40~80 cm":300},{"t":"2017-08-13T19:00","0~20 cm":455,"20~30 cm":380,"30~40 cm":350,"40~80 cm":370},{"t":"2017-08-13T20:00","0~20 cm":180,"20~30 cm":200,"30~40 cm":160,"40~80 cm":180},{"t":"2017-08-13T21:00","0~20 cm":150,"20~30 cm":165,"30~40 cm":140,"40~80 cm":150},{"t":"2017-08-13T22:00","0~20 cm":40,"20~30 cm":50,"30~40 cm":20,"40~80 cm":35},{"t":"2017-08-13T23:00","0~20 cm":20,"20~30 cm":30,"30~40 cm":10,"40~80 cm":25},
{"t":"2017-08-14T00:00","0~20 cm":60,"20~30 cm":50,"30~40 cm":15,"40~80 cm":40},{"t":"2017-08-14T01:00","0~20 cm":150,"20~30 cm":160,"30~40 cm":140,"40~80 cm":150},{"t":"2017-08-14T02:00","0~20 cm":280,"20~30 cm":300,"30~40 cm":250,"40~80 cm":270},{"t":"2017-08-14T03:00","0~20 cm":290,"20~30 cm":270,"30~40 cm":250,"40~80 cm":260},{"t":"2017-08-14T04:00","0~20 cm":175,"20~30 cm":175,"30~40 cm":160,"40~80 cm":170},{"t":"2017-08-14T05:00","0~20 cm":230,"20~30 cm":210,"30~40 cm":200,"40~80 cm":210},{"t":"2017-08-14T06:00","0~20 cm":220,"20~30 cm":230,"30~40 cm":200,"40~80 cm":210},{"t":"2017-08-14T07:00","0~20 cm":290,"20~30 cm":270,"30~40 cm":250,"40~80 cm":260},{"t":"2017-08-14T08:00","0~20 cm":350,"20~30 cm":310,"30~40 cm":280,"40~80 cm":300},{"t":"2017-08-14T09:00","0~20 cm":200,"20~30 cm":210,"30~40 cm":180,"40~80 cm":190},{"t":"2017-08-14T10:00","0~20 cm":135,"20~30 cm":125,"30~40 cm":50,"40~80 cm":80},{"t":"2017-08-14T11:00","0~20 cm":125,"20~30 cm":120,"30~40 cm":30,"40~80 cm":60},{"t":"2017-08-14T12:00","0~20 cm":130,"20~30 cm":130,"30~40 cm":55,"40~80 cm":75},{"t":"2017-08-14T13:00","0~20 cm":160,"20~30 cm":165,"30~40 cm":140,"40~80 cm":150},{"t":"2017-08-14T14:00","0~20 cm":310,"20~30 cm":300,"30~40 cm":260,"40~80 cm":290},{"t":"2017-08-14T15:00","0~20 cm":260,"20~30 cm":260,"30~40 cm":220,"40~80 cm":240},{"t":"2017-08-14T16:00","0~20 cm":240,"20~30 cm":245,"30~40 cm":190,"40~80 cm":210},{"t":"2017-08-14T17:00","0~20 cm":230,"20~30 cm":240,"30~40 cm":180,"40~80 cm":210},{"t":"2017-08-14T18:00","0~20 cm":225,"20~30 cm":235,"30~40 cm":180,"40~80 cm":200},{"t":"2017-08-14T19:00","0~20 cm":240,"20~30 cm":250,"30~40 cm":190,"40~80 cm":215},{"t":"2017-08-14T20:00","0~20 cm":250,"20~30 cm":290,"30~40 cm":210,"40~80 cm":240},{"t":"2017-08-14T21:00","0~20 cm":230,"20~30 cm":250,"30~40 cm":200,"40~80 cm":220},{"t":"2017-08-14T22:00","0~20 cm":185,"20~30 cm":190,"30~40 cm":175,"40~80 cm":190},{"t":"2017-08-14T23:00","0~20 cm":180,"20~30 cm":185,"30~40 cm":170,"40~80 cm":185},
{"t":"2017-08-15T00:00","0~20 cm":190,"20~30 cm":195,"30~40 cm":180,"40~80 cm":195},{"t":"2017-08-15T01:00","0~20 cm":185,"20~30 cm":195,"30~40 cm":175,"40~80 cm":190},{"t":"2017-08-15T02:00","0~20 cm":200,"20~30 cm":200,"30~40 cm":190,"40~80 cm":200},{"t":"2017-08-15T03:00","0~20 cm":260,"20~30 cm":255,"30~40 cm":250,"40~80 cm":255},{"t":"2017-08-15T04:00","0~20 cm":280,"20~30 cm":260,"30~40 cm":270,"40~80 cm":270},{"t":"2017-08-15T05:00","0~20 cm":265,"20~30 cm":255,"30~40 cm":275,"40~80 cm":265},{"t":"2017-08-15T06:00","0~20 cm":240,"20~30 cm":230,"30~40 cm":220,"40~80 cm":230},{"t":"2017-08-15T07:00","0~20 cm":230,"20~30 cm":220,"30~40 cm":210,"40~80 cm":220},{"t":"2017-08-15T08:00","0~20 cm":250,"20~30 cm":230,"30~40 cm":260,"40~80 cm":245},{"t":"2017-08-15T09:00","0~20 cm":380,"20~30 cm":400,"30~40 cm":440,"40~80 cm":420},{"t":"2017-08-15T10:00","0~20 cm":310,"20~30 cm":260,"30~40 cm":250,"40~80 cm":260},{"t":"2017-08-15T11:00","0~20 cm":270,"20~30 cm":240,"30~40 cm":230,"40~80 cm":250},{"t":"2017-08-15T12:00","0~20 cm":140,"20~30 cm":130,"30~40 cm":170,"40~80 cm":155},{"t":"2017-08-15T13:00","0~20 cm":125,"20~30 cm":120,"30~40 cm":160,"40~80 cm":145},{"t":"2017-08-15T14:00","0~20 cm":150,"20~30 cm":135,"30~40 cm":170,"40~80 cm":160},{"t":"2017-08-15T15:00","0~20 cm":200,"20~30 cm":220,"30~40 cm":230,"40~80 cm":210},{"t":"2017-08-15T16:00","0~20 cm":220,"20~30 cm":240,"30~40 cm":245,"40~80 cm":235},{"t":"2017-08-15T17:00","0~20 cm":380,"20~30 cm":330,"30~40 cm":310,"40~80 cm":350},{"t":"2017-08-15T18:00","0~20 cm":290,"20~30 cm":300,"30~40 cm":270,"40~80 cm":290},{"t":"2017-08-15T19:00","0~20 cm":250,"20~30 cm":290,"30~40 cm":250,"40~80 cm":260},{"t":"2017-08-15T20:00","0~20 cm":260,"20~30 cm":270,"30~40 cm":245,"40~80 cm":255},{"t":"2017-08-15T21:00","0~20 cm":250,"20~30 cm":280,"30~40 cm":250,"40~80 cm":260},{"t":"2017-08-15T22:00","0~20 cm":330,"20~30 cm":360,"30~40 cm":300,"40~80 cm":330},{"t":"2017-08-15T23:00","0~20 cm":160,"20~30 cm":190,"30~40 cm":200,"40~80 cm":200},
{"t":"2017-08-16T00:00","0~20 cm":140,"20~30 cm":180,"30~40 cm":200,"40~80 cm":205},{"t":"2017-08-16T01:00","0~20 cm":150,"20~30 cm":190,"30~40 cm":195,"40~80 cm":200},{"t":"2017-08-16T02:00","0~20 cm":170,"20~30 cm":200,"30~40 cm":200,"40~80 cm":210},{"t":"2017-08-16T03:00","0~20 cm":250,"20~30 cm":250,"30~40 cm":220,"40~80 cm":240},{"t":"2017-08-16T04:00","0~20 cm":270,"20~30 cm":300,"30~40 cm":210,"40~80 cm":260},{"t":"2017-08-16T05:00","0~20 cm":270,"20~30 cm":380,"30~40 cm":210,"40~80 cm":330},{"t":"2017-08-16T06:00","0~20 cm":260,"20~30 cm":390,"30~40 cm":220,"40~80 cm":340},{"t":"2017-08-16T07:00","0~20 cm":270,"20~30 cm":370,"30~40 cm":210,"40~80 cm":340},{"t":"2017-08-16T08:00","0~20 cm":280,"20~30 cm":380,"30~40 cm":225,"40~80 cm":350},{"t":"2017-08-16T09:00","0~20 cm":300,"20~30 cm":400,"30~40 cm":240,"40~80 cm":370},{"t":"2017-08-16T10:00","0~20 cm":530,"20~30 cm":640,"30~40 cm":420,"40~80 cm":480},{"t":"2017-08-16T11:00","0~20 cm":350,"20~30 cm":440,"30~40 cm":320,"40~80 cm":420},{"t":"2017-08-16T12:00","0~20 cm":380,"20~30 cm":600,"30~40 cm":300,"40~80 cm":450},{"t":"2017-08-16T13:00","0~20 cm":360,"20~30 cm":640,"30~40 cm":280,"40~80 cm":440},{"t":"2017-08-16T14:00","0~20 cm":320,"20~30 cm":430,"30~40 cm":230,"40~80 cm":400},{"t":"2017-08-16T15:00","0~20 cm":280,"20~30 cm":420,"30~40 cm":190,"40~80 cm":380},{"t":"2017-08-16T16:00","0~20 cm":360,"20~30 cm":460,"30~40 cm":210,"40~80 cm":390},{"t":"2017-08-16T17:00","0~20 cm":300,"20~30 cm":440,"30~40 cm":240,"40~80 cm":370},{"t":"2017-08-16T18:00","0~20 cm":330,"20~30 cm":420,"30~40 cm":220,"40~80 cm":380},{"t":"2017-08-16T19:00","0~20 cm":350,"20~30 cm":470,"30~40 cm":260,"40~80 cm":400},{"t":"2017-08-16T20:00","0~20 cm":300,"20~30 cm":430,"30~40 cm":230,"40~80 cm":390},{"t":"2017-08-16T21:00","0~20 cm":330,"20~30 cm":450,"30~40 cm":280,"40~80 cm":420},{"t":"2017-08-16T22:00","0~20 cm":340,"20~30 cm":470,"30~40 cm":300,"40~80 cm":430},{"t":"2017-08-16T23:00","0~20 cm":330,"20~30 cm":600,"30~40 cm":300,"40~80 cm":440},
{"t":"2017-08-17T00:00","0~20 cm":300,"20~30 cm":440,"30~40 cm":270,"40~80 cm":420},{"t":"2017-08-17T01:00","0~20 cm":250,"20~30 cm":410,"30~40 cm":190,"40~80 cm":400},{"t":"2017-08-17T02:00","0~20 cm":220,"20~30 cm":400,"30~40 cm":170,"40~80 cm":390},{"t":"2017-08-17T03:00","0~20 cm":180,"20~30 cm":380,"30~40 cm":160,"40~80 cm":380},{"t":"2017-08-17T04:00","0~20 cm":170,"20~30 cm":370,"30~40 cm":160,"40~80 cm":390},{"t":"2017-08-17T05:00","0~20 cm":165,"20~30 cm":390,"30~40 cm":165,"40~80 cm":400},{"t":"2017-08-17T06:00","0~20 cm":200,"20~30 cm":420,"30~40 cm":170,"40~80 cm":420},{"t":"2017-08-17T07:00","0~20 cm":350,"20~30 cm":500,"30~40 cm":280,"40~80 cm":470},{"t":"2017-08-17T08:00","0~20 cm":380,"20~30 cm":530,"30~40 cm":300,"40~80 cm":490},{"t":"2017-08-17T09:00","0~20 cm":360,"20~30 cm":540,"30~40 cm":300,"40~80 cm":480},{"t":"2017-08-17T09:50","0~20 cm":300,"20~30 cm":520,"30~40 cm":290,"40~80 cm":470}
],
"bed": [
{"t":"2017-08-10T16:24","bed":1},{"t":"2017-08-11T19:20","bed":2},{"t":"2017-08-12T07:50","bed":1},{"t":"2017-08-12T15:10","bed":2},{"t":"2017-08-12T18:50","bed":3},{"t":"2017-08-14T02:50","bed":2},{"t":"2017-08-14T21:40","bed":3},{"t":"2017-08-15T02:50","bed":4},{"t":"2017-08-15T06:10","bed":5},{"t":"2017-08-16T20:50","bed":6},{"t":"2017-08-17T10:00","bed":6}
],
"heat": [
{"t0":"2017-08-10T16:24","t1":"2017-08-17T10:00","h0":0,"h1":100,"ssc":100},
{"t0":"2017-08-10T16:24","t1":"2017-08-10T19:24","h0":0,"h1":26.5,"ssc":400},
{"t0":"2017-08-10T19:24","t1":"2017-08-10T21:24","h0":0,"h1":23.5,"ssc":400},
{"t0":"2017-08-10T21:24","t1":"2017-08-11T01:36","h0":0,"h1":20,"ssc":400},
{"t0":"2017-08-11T01:36","t1":"2017-08-11T12:00","h0":0,"h1":17,"ssc":400},
{"t0":"2017-08-11T12:00","t1":"2017-08-11T19:36","h0":0,"h1":13.5,"ssc":400},
{"t0":"2017-08-11T19:36","t1":"2017-08-12T23:18","h0":0,"h1":12,"ssc":400},
{"t0":"2017-08-12T23:18","t1":"2017-08-14T03:00","h0":0,"h1":11,"ssc":400},
{"t0":"2017-08-14T03:00","t1":"2017-08-15T11:30","h0":0,"h1":10.5,"ssc":400},
{"t0":"2017-08-15T11:30","t1":"2017-08-15T17:00","h0":0,"h1":16,"ssc":400},
{"t0":"2017-08-15T17:00","t1":"2017-08-17T10:00","h0":0,"h1":18,"ssc":400},
{"t0":"2017-08-16T01:18","t1":"2017-08-17T10:00","h0":18,"h1":22,"ssc":400},
{"t0":"2017-08-15T17:00","t1":"2017-08-17T10:00","h0":22,"h1":32,"ssc":400},
{"t0":"2017-08-16T02:42","t1":"2017-08-17T10:00","h0":32,"h1":37,"ssc":400},
{"t0":"2017-08-16T04:00","t1":"2017-08-17T10:00","h0":38.5,"h1":44.5,"ssc":400},
{"t0":"2017-08-16T02:42","t1":"2017-08-17T10:00","h0":45.5,"h1":51,"ssc":400},
{"t0":"2017-08-16T10:18","t1":"2017-08-17T10:00","h0":51,"h1":54,"ssc":400},
{"t0":"2017-08-16T02:42","t1":"2017-08-17T10:00","h0":54,"h1":62,"ssc":400},
{"t0":"2017-08-16T04:48","t1":"2017-08-17T10:00","h0":62,"h1":67,"ssc":400},
{"t0":"2017-08-15T18:24","t1":"2017-08-17T10:00","h0":67,"h1":73,"ssc":400},
{"t0":"2017-08-10T16:24","t1":"2017-08-11T12:42","h0":0,"h1":2.3,"ssc":1200},
{"t0":"2017-08-11T12:42","t1":"2017-08-12T09:30","h0":0,"h1":2,"ssc":3000},
{"t0":"2017-08-11T12:42","t1":"2017-08-12T09:30","h0":2,"h1":4,"ssc":1500},
{"t0":"2017-08-12T09:30","t1":"2017-08-14T03:00","h0":0,"h1":2.5,"ssc":4600},
{"t0":"2017-08-12T09:30","t1":"2017-08-14T03:00","h0":2.5,"h1":4,"ssc":3200},
{"t0":"2017-08-12T09:30","t1":"2017-08-14T03:00","h0":4,"h1":5.5,"ssc":1600},
{"t0":"2017-08-14T03:00","t1":"2017-08-15T11:30","h0":0,"h1":3,"ssc":4800},
{"t0":"2017-08-14T03:00","t1":"2017-08-15T11:30","h0":3,"h1":5,"ssc":3600},
{"t0":"2017-08-14T03:00","t1":"2017-08-15T11:30","h0":5,"h1":7,"ssc":1700},
{"t0":"2017-08-15T11:30","t1":"2017-08-16T01:00","h0":0,"h1":2,"ssc":4000},
{"t0":"2017-08-15T11:30","t1":"2017-08-16T01:00","h0":2,"h1":4,"ssc":2000},
{"t0":"2017-08-16T01:00","t1":"2017-08-16T15:00","h0":0,"h1":2,"ssc":2500},
{"t0":"2017-08-16T01:00","t1":"2017-08-16T15:00","h0":2,"h1":3,"ssc":1000},
{"t0":"2017-08-16T15:00","t1":"2017-08-17T10:00","h0":0,"h1":1.3,"ssc":800}
]
},
"vconcat": [
{
  "width": 779, "height": 103,
  "layer": [
    {"data": {"name": "wave"}, "mark": {"type": "line", "strokeWidth": 1.3},
     "encoding": {
       "x": {"field": "t", "type": "temporal", "scale": {"nice": false}, "axis": {"tickCount": 27, "labels": false, "title": null, "tickSize": 6, "orient": "bottom"}},
       "y": {"field": "Hs", "type": "quantitative", "scale": {"domain": [0, 0.4]}, "axis": {"values": [0, 0.1, 0.2, 0.3, 0.4], "title": "Wave height (m)", "tickSize": 8, "labelPadding": 6, "titlePadding": 10}},
       "color": {"datum": "Significant wave height", "type": "nominal", "scale": {"domain": ["Significant wave height", "Maximum wave height"], "range": ["#333333", "#ff1a1a"]},
         "legend": {"orient": "top-right", "offset": 8, "title": null, "symbolType": "stroke", "symbolStrokeWidth": 1.5, "symbolSize": 300, "labelFontSize": 12.5, "labelColor": "#555"}}
     }},
    {"data": {"name": "wave"}, "mark": {"type": "line", "strokeWidth": 1.3},
     "encoding": {
       "x": {"field": "t", "type": "temporal", "axis": {"tickCount": 7, "labels": false, "title": null, "tickSize": 16, "orient": "bottom", "domain": false}},
       "y": {"field": "Hmax", "type": "quantitative"},
       "color": {"datum": "Maximum wave height", "type": "nominal"}
     }}
  ],
  "resolve": {"axis": {"x": "independent"}}
},
{
  "width": 779, "height": 103,
  "layer": [
    {"data": {"name": "discharge"}, "mark": {"type": "bar", "size": 4.2, "color": "#c4c4c4"},
     "encoding": {
       "x": {"field": "t", "type": "temporal", "scale": {"nice": false}, "axis": {"tickCount": 27, "labels": false, "title": null, "tickSize": 6, "orient": "bottom"}},
       "y": {"field": "q", "type": "quantitative", "scale": {"domain": [0, 2000]}, "axis": {"orient": "right", "values": [0, 500, 1000, 1500, 2000], "format": "d", "title": ["Dam discharge", "(m³/sec)"], "titleFontSize": 15, "tickSize": 8, "labelPadding": 13, "titlePadding": 6}}
     }},
    {"data": {"name": "level"}, "mark": {"type": "line", "color": "#333333", "strokeWidth": 1.3},
     "encoding": {
       "x": {"field": "t", "type": "temporal", "axis": {"tickCount": 7, "labels": false, "title": null, "tickSize": 15, "orient": "bottom", "domain": false}},
       "y": {"field": "wl", "type": "quantitative", "scale": {"domain": [4.8, 7.2]}, "axis": {"orient": "left", "values": [4.8, 5.4, 6, 6.6, 7.2], "title": "Water level (m)", "tickSize": 8, "labelPadding": 6, "titlePadding": 10}}
     }}
  ],
  "resolve": {"scale": {"y": "independent"}, "axis": {"x": "independent"}}
},
{
  "width": 779, "height": 103,
  "layer": [
    {"data": {"name": "bed"}, "mark": {"type": "line", "interpolate": "step-after", "color": "#a6a6a6", "strokeWidth": 2},
     "encoding": {
       "x": {"field": "t", "type": "temporal", "scale": {"nice": false}, "axis": {"tickCount": 7, "labels": false, "title": null, "tickSize": 14, "orient": "bottom", "domain": false}},
       "y": {"field": "bed", "type": "quantitative", "scale": {"domain": [0, 7]}, "axis": {"orient": "right", "values": [0, 2, 4, 6], "title": "Bed level (cm)", "tickSize": 9, "labelPadding": 12, "titlePadding": 7}}
     }},
    {"data": {"name": "ssc"}, "transform": [{"fold": ["0~20 cm", "20~30 cm", "30~40 cm", "40~80 cm"], "as": ["layer", "ssc"]}],
     "mark": {"type": "point", "filled": true, "size": 16, "opacity": 1},
     "encoding": {
       "x": {"field": "t", "type": "temporal", "axis": {"tickCount": 27, "labels": false, "title": null, "tickSize": 6, "orient": "bottom"}},
       "y": {"field": "ssc", "type": "quantitative", "scale": {"domain": [0, 800]}, "axis": {"orient": "left", "values": [0, 200, 400, 600, 800], "title": "SSC (mg/L)", "titleFontSize": 17, "tickSize": 9, "labelPadding": 11, "titlePadding": 5}},
       "color": {"field": "layer", "type": "nominal", "scale": {"domain": ["0~20 cm", "20~30 cm", "30~40 cm", "40~80 cm"], "range": ["#ff0000", "#0000ff", "#000000", "#7f7f7f"]},
         "legend": {"orient": "top-left", "offset": 4, "direction": "horizontal", "title": "SSC for each layer", "titleFontSize": 11.5, "titleFontWeight": "normal", "titleColor": "#333", "labelFontSize": 12, "labelColor": "#333", "symbolSize": 20, "symbolType": "circle", "strokeColor": "#aaaaaa", "fillColor": "#ffffff", "padding": 3}}
     }}
  ],
  "resolve": {"scale": {"y": "independent"}, "axis": {"x": "independent"}}
},
{
  "width": 779, "height": 102,
  "layer": [
    {"data": {"name": "heat"}, "transform": [{"filter": "datum.ssc < 1000"}], "mark": {"type": "rect"},
     "encoding": {
       "x": {"field": "t0", "type": "temporal", "scale": {"nice": false},
         "axis": {"tickCount": 27, "orient": "bottom", "labelExpr": "hours(datum.value) == 0 ? '' : (hours(datum.value) == 12 ? '12' : '06')", "labelFontSize": 11, "tickSize": 9, "labelPadding": 10, "labelOverlap": false, "labelFlush": false, "title": null}},
       "x2": {"field": "t1"},
       "y": {"field": "h0", "type": "quantitative", "scale": {"domain": [0, 100]}, "axis": {"values": [0, 20, 40, 60, 80, 100], "title": ["Height", "from base (cm)"], "tickSize": 8, "labelPadding": 12, "titlePadding": 6}},
       "y2": {"field": "h1"},
       "color": {"field": "ssc", "type": "quantitative", "scale": {"type": "threshold", "domain": [250, 500, 1000, 1500, 2000, 2500, 3000, 3500, 4000, 4500], "range": ["#f9f9f9", "#fadcdc", "#f8c4c4", "#f6acac", "#f49494", "#f27c7c", "#f06262", "#ee4848", "#ec2e2e", "#ea1414", "#e80000"]},
         "legend": {"title": "SSC (mg/L)", "orient": "right", "offset": 12, "columns": 2, "columnPadding": 3, "symbolType": "square", "symbolSize": 100, "symbolStrokeColor": "#000000", "symbolStrokeWidth": 0.8, "rowPadding": 0, "labelFontSize": 9, "labelOffset": 2, "titleFontSize": 13, "titleFontWeight": "normal", "titlePadding": 4}}
     }},
    {"data": {"name": "heat"}, "transform": [{"filter": "datum.ssc >= 1000"}], "mark": {"type": "rect"},
     "encoding": {
       "x": {"field": "t0", "type": "temporal",
         "axis": {"tickCount": 7, "orient": "bottom", "labelExpr": "timeFormat(datum.value, '%d')", "labelFontSize": 14, "tickSize": 19, "labelPadding": 9, "labelOverlap": false, "labelFlush": false, "domain": false, "title": "DD, hh (August, 2017)", "titleFontWeight": "bold", "titleFontSize": 13.5, "titlePadding": 4}},
       "x2": {"field": "t1"},
       "y": {"field": "h0", "type": "quantitative"},
       "y2": {"field": "h1"},
       "color": {"field": "ssc", "type": "quantitative", "scale": {"type": "threshold", "domain": [250, 500, 1000, 1500, 2000, 2500, 3000, 3500, 4000, 4500], "range": ["#f9f9f9", "#fadcdc", "#f8c4c4", "#f6acac", "#f49494", "#f27c7c", "#f06262", "#ee4848", "#ec2e2e", "#ea1414", "#e80000"]},
         "legend": {"title": "SSC (mg/L)", "orient": "right", "offset": 12, "columns": 2, "columnPadding": 3, "symbolType": "square", "symbolSize": 100, "symbolStrokeColor": "#000000", "symbolStrokeWidth": 0.8, "rowPadding": 0, "labelFontSize": 9, "labelOffset": 2, "titleFontSize": 13, "titleFontWeight": "normal", "titlePadding": 4}}
     }}
  ],
  "resolve": {"axis": {"x": "independent"}}
}
],
"spacing": 24,
"bounds": "flush",
"resolve": {"scale": {"color": "independent"}}
}
